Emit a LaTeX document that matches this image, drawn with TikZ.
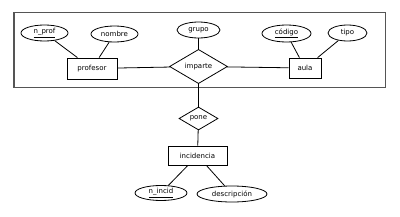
\documentclass[tikz,border=0pt]{standalone}
\usepackage{fontspec}
\setmainfont{DejaVu Sans}
\usetikzlibrary{shapes.geometric}

\begin{document}
\begin{tikzpicture}[x=1pt, y=-1pt, every node/.style={inner sep=0pt, font=\fontsize{7}{8.4}\selectfont}]
  \tikzset{ent/.style={rectangle, draw=black, line width=0.8pt, minimum height=20pt}}
  \tikzset{attr/.style={ellipse, draw=black, line width=0.8pt, minimum height=16pt}}
  \tikzset{rel/.style={diamond, draw=black, line width=0.8pt}}
  \tikzset{link/.style={draw=black, line width=0.8pt}}
  \useasboundingbox (0,0) rectangle (400,217);
  \draw[draw={rgb,255:red,85;green,85;blue,85}, line width=1.2pt] (14.0000, 12.5000) rectangle (385.5000, 87.5000);
  \node[ent, minimum width=50pt, minimum height=21pt] (profesor) at (92.0000, 68.5000) {profesor};
  \node[ent, minimum width=32pt] (aula) at (305.0000, 68.0000) {aula};
  \node[ent, minimum width=59pt, minimum height=19pt] (incidencia) at (197.5000, 155.5000) {incidencia};
  \node[rel, minimum width=58pt, minimum height=30pt] (imparte) at (198.5000, 66.5000) {imparte};
  \node[rel, minimum width=39pt, minimum height=23pt] (pone) at (198.5000, 118.5000) {pone};
  \node[attr, minimum width=47pt] (nprof) at (44.5000, 33.0000) {\underline{n\_prof}};
  \node[attr, minimum width=47pt] (nombre) at (114.5000, 34.0000) {nombre};
  \node[attr, minimum width=43pt] (grupo) at (198.5000, 30.0000) {grupo};
  \node[attr, minimum width=49pt, minimum height=17pt] (codigo) at (286.5000, 33.5000) {\underline{código}};
  \node[attr, minimum width=39pt] (tipo) at (347.5000, 33.0000) {tipo};
  \node[attr, minimum width=52pt, minimum height=15pt] (nincid) at (161.0000, 193.0000) {\underline{n\_incid}};
  \node[attr, minimum width=70pt] (descripcion) at (232.0000, 194.0000) {descripción};
  % relaciones
  \draw[link] (profesor) -- (imparte);
  \draw[link] (imparte) -- (aula);
  \draw[link] (grupo) -- (imparte);
  \draw[link] (imparte) -- (pone);
  \draw[link] (pone) -- (incidencia);
  % atributos
  \draw[link] (nprof) -- (profesor);
  \draw[link] (nombre) -- (profesor);
  \draw[link] (codigo) -- (aula);
  \draw[link] (tipo) -- (aula);
  \draw[link] (nincid) -- (incidencia);
  \draw[link] (descripcion) -- (incidencia);
\end{tikzpicture}
\end{document}
